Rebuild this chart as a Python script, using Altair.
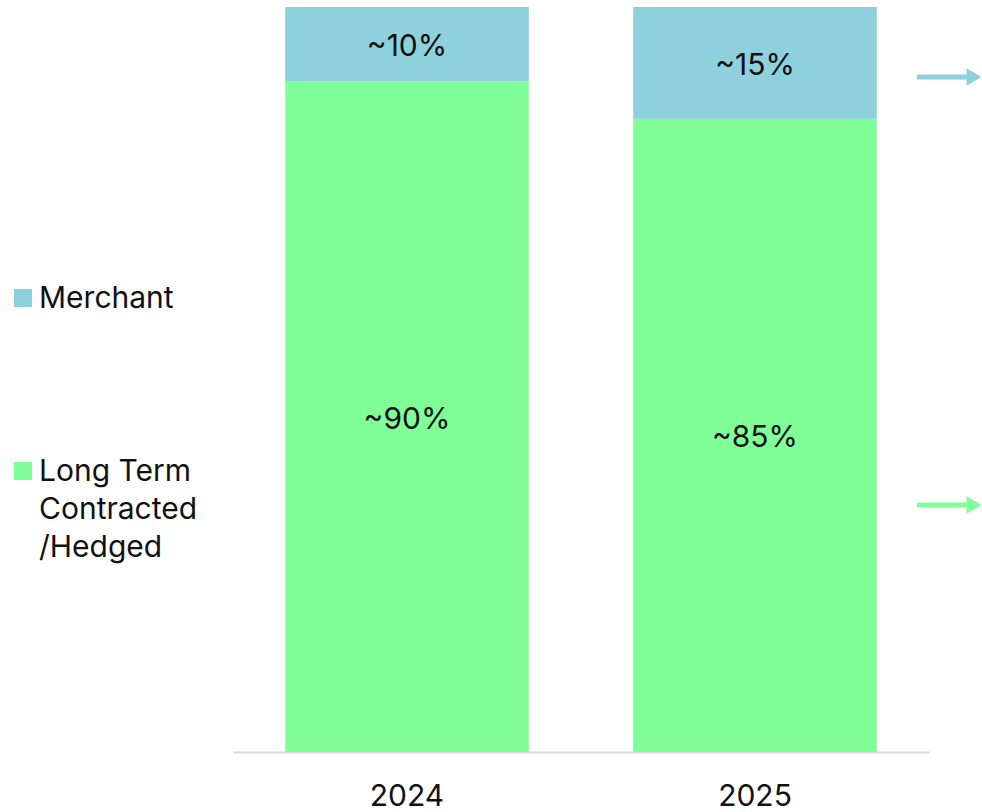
import altair as alt
import pandas as pd

years = ["2024", "2025"]
contracted = [90, 85]
merchant = [10, 15]
contracted_labels = ["~90%", "~85%"]
merchant_labels = ["~10%", "~15%"]
series = ["Long Term Contracted/Hedged", "Merchant"]
colors = ["#80FF99", "#8ED1DC"]

rows = []
for i, yr in enumerate(years):
    rows.append({"year": yr, "series": series[0], "value": contracted[i], "label": contracted_labels[i], "ord": 0})
    rows.append({"year": yr, "series": series[1], "value": merchant[i], "label": merchant_labels[i], "ord": 1})
df = pd.DataFrame(rows)

FONT = "Inter"
FS = 30
W, H = 696, 745

xenc = alt.X("year:N", title=None,
             scale=alt.Scale(paddingInner=0.3, paddingOuter=0.15),
             axis=alt.Axis(labelAngle=0, labelFontSize=FS, labelFont=FONT, labelColor="#111111",
                           domainColor="#D9D9D9", domainWidth=2, ticks=False, labelPadding=29))
yscale = alt.Scale(domain=[0, 100], nice=False)
cscale = alt.Scale(domain=series, range=colors)

base = alt.Chart(df)

bars = base.mark_bar(strokeWidth=0).encode(
    x=xenc,
    y=alt.Y("value:Q", stack="zero", scale=yscale, axis=None),
    color=alt.Color("series:N", scale=cscale, legend=None),
    order=alt.Order("ord:Q"),
)

labels = base.transform_stack(
    stack="value", groupby=["year"], as_=["v0", "v1"], sort=[alt.SortField("ord")]
).transform_calculate(mid="(datum.v0 + datum.v1) / 2").mark_text(
    fontSize=FS, font=FONT, color="#111111", dy=3
).encode(
    x=alt.X("year:N"),
    y=alt.Y("mid:Q", scale=yscale),
    text="label:N",
)

# Legend (manual, left of plot)
leg_df = pd.DataFrame({"series": series, "text": ["Long Term\nContracted\n/Hedged", "Merchant"],
                       "ypix": [464, 291]})
leg_sq = alt.Chart(leg_df).mark_square(size=324, opacity=1, filled=True).encode(
    x=alt.value(-210), y=alt.Y("ypix:Q", scale=None),
    color=alt.Color("series:N", scale=cscale, legend=None),
)
leg_txt = alt.Chart(leg_df).mark_text(align="left", baseline="line-top", dy=-18, fontSize=FS, font=FONT,
                                      color="#111111", lineHeight=38, lineBreak="\n").encode(
    x=alt.value(-194), y=alt.Y("ypix:Q", scale=None), text="text:N",
)

# Arrows on the right
arr_df = pd.DataFrame({"series": series, "ypix": [498, 70]})
arr_line = alt.Chart(arr_df).mark_rule(strokeWidth=5).encode(
    x=alt.value(684), x2=alt.value(736), y=alt.Y("ypix:Q", scale=None),
    color=alt.Color("series:N", scale=cscale, legend=None),
)
arr_head = alt.Chart(arr_df).mark_point(shape="triangle-right", filled=True, size=300, opacity=1).encode(
    x=alt.value(741), y=alt.Y("ypix:Q", scale=None),
    color=alt.Color("series:N", scale=cscale, legend=None),
)

chart = alt.layer(bars, labels, leg_sq, leg_txt, arr_line, arr_head).properties(
    width=W, height=H,
    background="white",
    autosize=alt.AutoSizeParams(type="none"),
    padding={"left": 233, "top": 7, "right": 53, "bottom": 60},
).configure_view(strokeWidth=0, stroke="transparent")

chart.save("out.html", embed_options={"renderer": "svg", "actions": False})
